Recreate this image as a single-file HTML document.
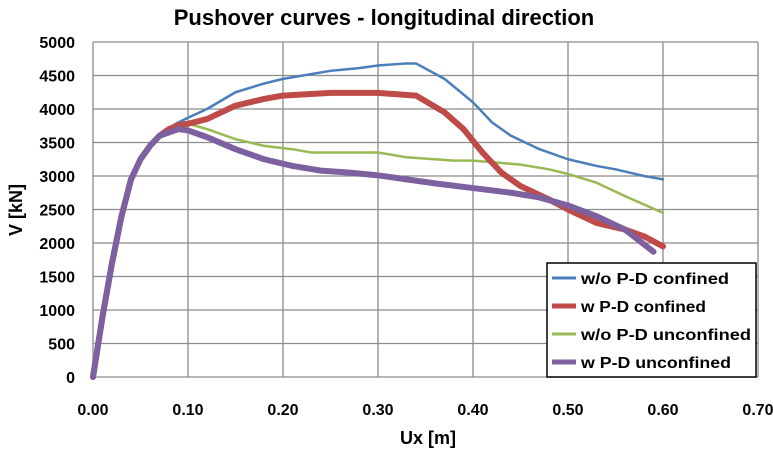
<!DOCTYPE html>
<html><head><meta charset="utf-8"><style>
body{margin:0;background:#fff;font-family:"Liberation Sans",Arial,sans-serif}
svg text{font-family:"Liberation Sans",Arial,sans-serif;font-weight:bold;fill:#000}
</style></head><body>
<svg id="c" width="773" height="449">
<text x="384" y="25" text-anchor="middle" font-size="22">Pushover curves - longitudinal direction</text>
<g id="grid"></g><g id="series"></g><g id="legend"></g>
<text x="428" y="444" text-anchor="middle" font-size="18">Ux [m]</text>
<text transform="translate(22,210) rotate(-90)" text-anchor="middle" font-size="18">V [kN]</text>
</svg>
<script>
const xTicks=[0,0.1,0.2,0.3,0.4,0.5,0.6,0.7];
const yTicks=[0,500,1000,1500,2000,2500,3000,3500,4000,4500,5000];
const seriesNames=["w/o P-D confined","w P-D confined","w/o P-D unconfined","w P-D unconfined"];
const common=[[0,0],[0.01,900],[0.02,1700],[0.03,2400],[0.04,2950],[0.05,3250],[0.06,3450],[0.07,3600]];
const blueData=[[0.08,3720],[0.09,3800],[0.10,3870],[0.12,4000],[0.15,4250],[0.18,4380],[0.20,4450],[0.25,4570],[0.28,4610],[0.30,4650],[0.33,4680],[0.34,4680],[0.37,4450],[0.40,4100],[0.42,3800],[0.44,3600],[0.47,3400],[0.50,3250],[0.53,3150],[0.55,3100],[0.58,3000],[0.60,2950]];
const redData=[[0.08,3700],[0.09,3760],[0.10,3780],[0.12,3850],[0.15,4050],[0.18,4150],[0.20,4200],[0.25,4240],[0.30,4240],[0.34,4200],[0.37,3950],[0.39,3700],[0.41,3350],[0.43,3050],[0.45,2850],[0.48,2650],[0.50,2500],[0.53,2300],[0.56,2200],[0.58,2100],[0.60,1950]];
const greenData=[[0.08,3720],[0.09,3780],[0.10,3780],[0.12,3700],[0.15,3550],[0.18,3450],[0.21,3400],[0.23,3350],[0.30,3350],[0.33,3280],[0.38,3230],[0.40,3230],[0.45,3170],[0.48,3100],[0.50,3030],[0.53,2900],[0.56,2700],[0.60,2450]];
const purpleData=[[0.08,3650],[0.09,3700],[0.10,3680],[0.12,3580],[0.15,3400],[0.18,3250],[0.21,3150],[0.24,3080],[0.27,3050],[0.30,3010],[0.33,2950],[0.36,2890],[0.40,2820],[0.44,2750],[0.47,2680],[0.50,2560],[0.53,2400],[0.56,2200],[0.59,1870]];
const L=93,R=758,T=42,B=377;
const X=v=>L+(v/0.7)*(R-L), Y=v=>B-(v/5000)*(B-T);
const NS="http://www.w3.org/2000/svg";
function mk(t,a,p){const e=document.createElementNS(NS,t);for(const k in a)e.setAttribute(k,a[k]);p.appendChild(e);return e;}
const g=document.getElementById('grid');
yTicks.forEach(v=>{const l=mk('line',{x1:L,x2:R,y1:Y(v),y2:Y(v),stroke:'#8c8c8c','stroke-width':1.3},g);


const t=mk('text',{x:L-18,y:Y(v)+6,'text-anchor':'end','font-size':16},g);t.textContent=v;

});
xTicks.forEach(v=>{const l=mk('line',{x1:X(v),x2:X(v),y1:T,y2:B,stroke:'#8c8c8c','stroke-width':1.3},g);


const t=mk('text',{x:X(v),y:415,'text-anchor':'middle','font-size':16},g);t.textContent=v.toFixed(2);

});
const cols=['#4a7ebb','#be4b48','#98b954','#7d60a0'],wid=[2.5,6,2.5,6];
const sets=[blueData,redData,greenData,purpleData];
const s=document.getElementById('series');
[2,0,1,3].forEach(i=>{const pts=common.concat(sets[i]).map(p=>X(p[0])+','+Y(p[1])).join(' ');
const pl=mk('polyline',{points:pts,fill:'none',stroke:cols[i],'stroke-width':wid[i],'stroke-linejoin':'round','stroke-linecap':'round'},s);

});
const lg=document.getElementById('legend');
const box=mk('rect',{x:547,y:263,width:209,height:114,fill:'#fff',stroke:'#000','stroke-width':1.5},lg);


seriesNames.forEach((n,i)=>{const y=278+i*28;
const l=mk('line',{x1:552,x2:576,y1:y,y2:y,stroke:cols[i],'stroke-width':wid[i]==6?5:3},lg);


const t=mk('text',{x:581,y:y+6,'font-size':16,textLength:i==2?170:(i==0?148:(i==1?125:150)),lengthAdjust:'spacingAndGlyphs'},lg);t.textContent=n;

});
</script>
</body></html>
